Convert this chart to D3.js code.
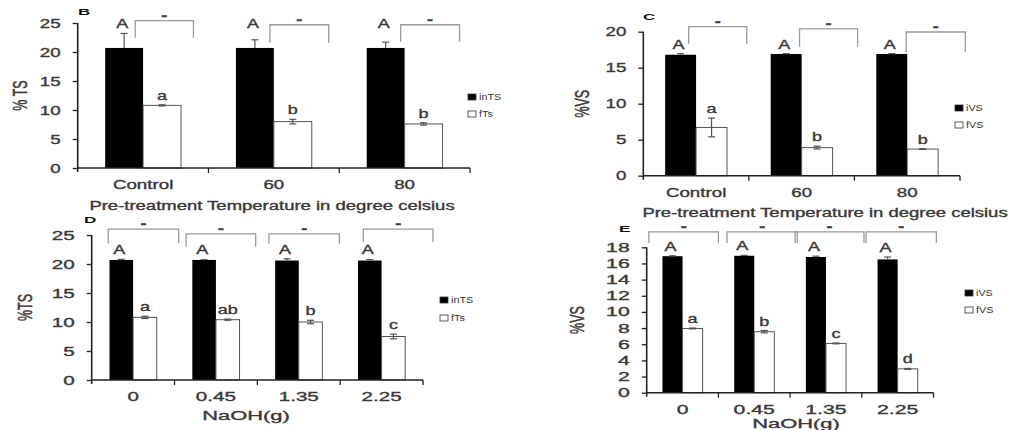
<!doctype html>
<html>
<head>
<meta charset="utf-8"/>
<title>TS and VS after pre-treatment</title>
<script src="https://d3js.org/d3.v7.min.js"></script>
<style>
body { margin: 0; background: #fff; }
text { font-family: "Liberation Sans", Arial, sans-serif; }
.heavy { stroke: #3a3838; stroke-width: 0.35px; }
</style>
</head>
<body>
<div id="chart"></div>
<script>
// ---- data ----
var tempCats = ["Control", "60", "80"];
var naohCats = ["0", "0.45", "1.35", "2.25"];

// B : %TS vs temperature
var tsTempInit = [20.7, 20.7, 20.7];
var tsTempInitErr = [2.5, 1.4, 1.0];
var tsTempFinal = [10.8, 8.0, 7.6];
var tsTempFinalErr = [0.1, 0.4, 0.2];
var tsTempLetters = ["a", "b", "b"];

// C : %VS vs temperature
var vsTempInit = [16.8, 16.9, 16.9];
var vsTempInitErr = [0.15, 0.05, 0.05];
var vsTempFinal = [6.7, 3.9, 3.7];
var vsTempFinalErr = [1.3, 0.2, 0.05];
var vsTempLetters = ["a", "b", "b"];

// D : %TS vs NaOH
var tsNaohInit = [20.7, 20.7, 20.6, 20.6];
var tsNaohInitErr = [0.1, 0.05, 0.3, 0.15];
var tsNaohFinal = [10.8, 10.4, 10.0, 7.5];
var tsNaohFinalErr = [0.2, 0.1, 0.3, 0.4];
var tsNaohLetters = ["a", "ab", "b", "c"];

// E : %VS vs NaOH
var vsNaohInit = [16.9, 16.95, 16.8, 16.5];
var vsNaohInitErr = [0.05, 0.05, 0.1, 0.3];
var vsNaohFinal = [7.95, 7.55, 6.1, 2.95];
var vsNaohFinalErr = [0.05, 0.15, 0.05, 0.05];
var vsNaohLetters = ["a", "b", "c", "d"];

var tsTicks = [0, 5, 10, 15, 20, 25];
var vsTicks = [0, 5, 10, 15, 20];
var vsTicksFine = [0, 2, 4, 6, 8, 10, 12, 14, 16, 18];

var tsLegend = ["inTS", "fTs"];
var vsLegend = ["iVS", "fVS"];
var initLetter = "A";
var bracketMark = "-";

// ---- layout of the four panels ----
var panels = [
  { tag: "B", cats: tempCats, init: tsTempInit, initErr: tsTempInitErr, fin: tsTempFinal, finErr: tsTempFinalErr,
    letters: tsTempLetters, ticks: tsTicks, max: 25, ylab: "% TS", xlab: "Pre-treatment Temperature in degree celsius",
    legend: tsLegend, left: 77.7, right: 470, top: 23, bottom: 168, barFrac: 0.29, sx: 1.5, alignA: true,
    tagX: 78, tagY: 15, ylabX: 20, xlabX: 272, xlabDy: 42, legX: 468, legY: [97, 114],
    brL: [0.44, 0.47, 0.47], brR: [0.885, 0.92, 0.92], brTop: [25.4, 24.7, 24.7], brLeg: [17, 18, 17] },
  { tag: "C", cats: tempCats, init: vsTempInit, initErr: vsTempInitErr, fin: vsTempFinal, finErr: vsTempFinalErr,
    letters: vsTempLetters, ticks: vsTicks, max: 20, ylab: "%VS", xlab: "Pre-treatment Temperature in degree celsius",
    legend: vsLegend, left: 643.3, right: 960, top: 31.7, bottom: 175.7, barFrac: 0.293, sx: 1.5, alignA: true,
    tagX: 643, tagY: 20, ylabX: 582, xlabX: 825, xlabDy: 41, legX: 955, legY: [108, 125],
    brL: [0.43, 0.48, 0.49], brR: [0.98, 1.03, 1.05], brTop: [20.7, 20.4, 19.96], brLeg: [17, 18, 20] },
  { tag: "D", cats: naohCats, init: tsNaohInit, initErr: tsNaohInitErr, fin: tsNaohFinal, finErr: tsNaohFinalErr,
    letters: tsNaohLetters, ticks: tsTicks, max: 25, ylab: "%TS", xlab: "NaOH(g)",
    legend: tsLegend, left: 91.7, right: 423, top: 235, bottom: 380, barFrac: 0.285, sx: 1.65, alignA: true,
    tagX: 84, tagY: 223, ylabX: 25, xlabX: 246, xlabDy: 40, legX: 440, legY: [300, 318],
    brL: [0.2, 0.14, 0.14, 0.28], brR: [1.05, 0.98, 0.99, 1.12], brTop: [26.0, 25.2, 25.2, 26.0], brLeg: [14, 13, 10, 13] },
  { tag: "E", cats: naohCats, init: vsNaohInit, initErr: vsNaohInitErr, fin: vsNaohFinal, finErr: vsNaohFinalErr,
    letters: vsNaohLetters, ticks: vsTicksFine, max: 18, ylab: "%VS", xlab: "NaOH(g)",
    legend: vsLegend, left: 646.7, right: 933.5, top: 247.3, bottom: 392.7, barFrac: 0.28, sx: 1.7, alignA: false,
    tagX: 619, tagY: 232, ylabX: 577, xlabX: 796, xlabDy: 35, legX: 965, legY: [293, 310],
    brL: [0.03, 0.12, 0.07, 0.06], brR: [1.0, 1.1, 1.03, 1.04], brTop: [19.9, 19.9, 19.9, 19.9], brLeg: [11, 11, 11, 11] }
];

var svg = d3.select("#chart").append("svg")
  .attr("width", 1009)
  .attr("height", 430)
  .style("background", "#fff");

// text stretched horizontally like the source image
function stext(g, x, y, str, o) {
  var t = "translate(" + x + "," + y + ") scale(" + (o.sx || 1) + ",1)" + (o.rot ? " rotate(-90)" : "");
  return g.append("text")
    .attr("class", o.light ? null : "heavy")
    .attr("transform", t)
    .attr("text-anchor", o.anchor || "middle")
    .attr("font-size", o.size || 12)
    .attr("font-weight", o.weight || "normal")
    .attr("fill", o.fill || "#3a3838")
    .attr("dy", o.dy || null)
    .text(str);
}

panels.forEach(drawPanel);

function drawPanel(p) {
  var g = svg.append("g");
  var x = d3.scaleBand().domain(p.cats).range([p.left, p.right]);
  var y = d3.scaleLinear().domain([0, p.max]).range([p.bottom, p.top]);
  var band = x.bandwidth();
  var bw = band * p.barFrac;
  var mid = function (c) { return x(c) + band / 2; };

  // bars
  g.selectAll(".init").data(p.cats).join("rect")
    .attr("x", function (c) { return mid(c) - bw; })
    .attr("y", function (c, i) { return y(p.init[i]); })
    .attr("width", bw)
    .attr("height", function (c, i) { return y(0) - y(p.init[i]); })
    .attr("fill", "#000");
  g.selectAll(".fin").data(p.cats).join("rect")
    .attr("x", function (c) { return mid(c); })
    .attr("y", function (c, i) { return y(p.fin[i]); })
    .attr("width", bw)
    .attr("height", function (c, i) { return y(0) - y(p.fin[i]); })
    .attr("fill", "#fff")
    .attr("stroke", "#555")
    .attr("stroke-width", 1);

  // error bars
  p.cats.forEach(function (c, i) {
    var cx = mid(c) - bw / 2;
    var hi = y(p.init[i] + p.initErr[i]);
    g.append("line").attr("x1", cx).attr("x2", cx).attr("y1", y(p.init[i])).attr("y2", hi)
      .attr("stroke", "#555").attr("stroke-width", 1.2);
    g.append("line").attr("x1", cx - 3.5).attr("x2", cx + 3.5).attr("y1", hi).attr("y2", hi)
      .attr("stroke", "#555").attr("stroke-width", 1.2);

    var fx = mid(c) + bw / 2;
    var fhi = y(p.fin[i] + p.finErr[i]), flo = y(p.fin[i] - p.finErr[i]);
    g.append("line").attr("x1", fx).attr("x2", fx).attr("y1", flo).attr("y2", fhi)
      .attr("stroke", "#555").attr("stroke-width", 1.2);
    [fhi, flo].forEach(function (yy) {
      g.append("line").attr("x1", fx - 3.5).attr("x2", fx + 3.5).attr("y1", yy).attr("y2", yy)
        .attr("stroke", "#555").attr("stroke-width", 1.2);
    });
  });

  // letters over bars
  var topA = d3.max(p.init, function (v, i) { return v + p.initErr[i]; });
  p.cats.forEach(function (c, i) {
    var ay = p.alignA ? y(topA) - 5 : y(p.init[i] + p.initErr[i]) - 5;
    stext(g, mid(c) - bw / 2 - 2, ay, initLetter, { sx: 1.5, size: 12 });
    stext(g, mid(c) + bw / 2, y(p.fin[i] + p.finErr[i]) - 5, p.letters[i], { sx: 1.5, size: 12 });
  });

  // brackets
  p.cats.forEach(function (c, i) {
    var x1 = x(c) + band * p.brL[i], x2 = x(c) + band * p.brR[i];
    var yt = y(p.brTop[i]), yb = yt + p.brLeg[i];
    g.append("path")
      .attr("d", "M" + x1 + "," + yb + "V" + yt + "H" + x2 + "V" + yb)
      .attr("fill", "none").attr("stroke", "#9a9a9a").attr("stroke-width", 1.3);
    stext(g, (x1 + x2) / 2, yt - 1, bracketMark, { sx: 1.5, size: 12, weight: "bold", fill: "#444" });
  });

  // y axis
  var gap = 17;
  var ya = g.append("g")
    .attr("transform", "translate(" + p.left + ",0)")
    .call(d3.axisLeft(y).tickValues(p.ticks).tickSize(5).tickSizeOuter(0));
  ya.select(".domain").attr("stroke", "#222").attr("stroke-width", 1.6)
    .attr("d", "M0," + y(p.max) + "V" + (y(0) + 4));
  ya.selectAll(".tick line").attr("stroke", "#222").attr("stroke-width", 1.3);
  ya.selectAll(".tick text")
    .attr("class", "heavy")
    .attr("x", -gap / p.sx)
    .attr("transform", "scale(" + p.sx + ",1)")
    .attr("font-size", 12.5)
    .attr("font-family", "Liberation Sans, Arial, sans-serif")
    .attr("fill", "#3a3838");

  // x axis: labels at centres, ticks at band edges
  var xa = g.append("g")
    .attr("transform", "translate(0," + y(0) + ")")
    .call(d3.axisBottom(x).tickSize(0).tickSizeOuter(0));
  xa.select(".domain").attr("stroke", "#222").attr("stroke-width", 1.6)
    .attr("d", "M" + p.left + ",0H" + p.right);
  xa.selectAll(".tick text")
    .attr("class", "heavy")
    .attr("y", 12)
    .attr("transform", "scale(" + p.sx + ",1)")
    .attr("font-size", 12.5)
    .attr("font-family", "Liberation Sans, Arial, sans-serif")
    .attr("fill", "#3a3838");
  xa.selectAll(".tick").attr("transform", function (c) {
    return "translate(" + mid(c) + ",0)";
  });
  g.selectAll(".edge").data(p.cats).join("line")
    .attr("x1", function (c) { return x(c) + band; })
    .attr("x2", function (c) { return x(c) + band; })
    .attr("y1", y(0)).attr("y2", y(0) + 5)
    .attr("stroke", "#222").attr("stroke-width", 1.3);

  // axis titles
  stext(g, p.ylabX, (p.top + p.bottom) / 2, p.ylab, { sx: 1.55, size: 12.5, rot: true, dy: "0.35em", fill: "#4a3a34" });
  stext(g, p.xlabX, y(0) + p.xlabDy, p.xlab, { sx: p.xlab.length > 10 ? 1.48 : 1.75, size: 12.5 });

  // panel tag
  stext(g, p.tagX, p.tagY, p.tag, { sx: 1.9, size: 9, weight: "bold", anchor: "start", fill: "#111", light: true });

  // legend
  p.legend.forEach(function (name, i) {
    var ly = p.legY[i];
    g.append("rect").attr("x", p.legX).attr("y", ly - 3).attr("width", 8).attr("height", 6)
      .attr("fill", i === 0 ? "#000" : "#fff").attr("stroke", "#333").attr("stroke-width", 0.8);
    stext(g, p.legX + 11, ly + 3, name, { sx: 1.2, size: 9, anchor: "start", fill: "#333", light: true });
  });
}
</script>
</body>
</html>
